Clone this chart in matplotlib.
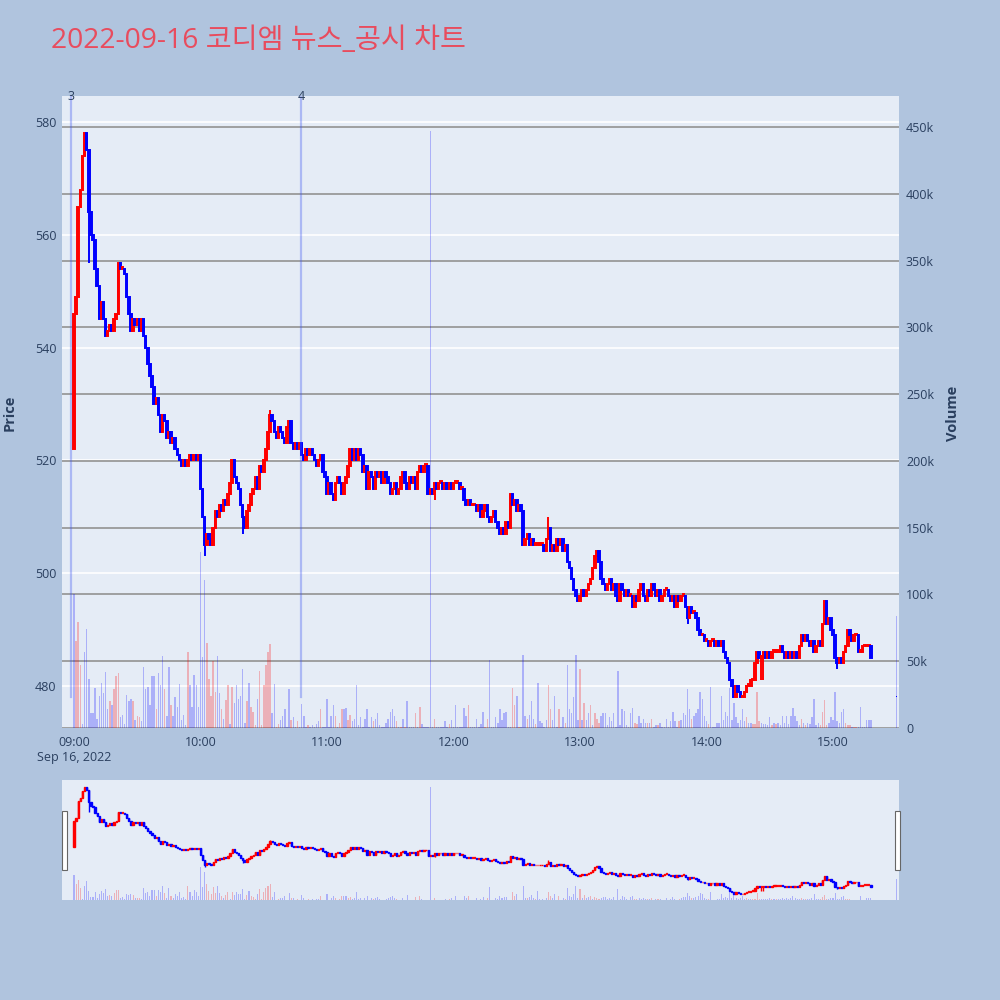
import matplotlib.pyplot as plt
from matplotlib.patches import Rectangle

plt.rcParams['font.family'] = ['Open Sans', 'Noto Sans CJK KR', 'DejaVu Sans']

# ---- data (1-minute bars from 09:00) ----
title = "2022-09-16 코디엠 뉴스_공시 차트"
first_open = 522

closes = [
    546, 549, 565, 568, 574, 578, 575, 564, 560, 559,   # 09:00
    554, 551, 545, 548, 545, 542, 543, 544, 543, 545,
    546, 555, 554, 554, 553, 549, 546, 543, 545, 544,
    545, 543, 545, 542, 540, 537, 535, 533, 530, 531,
    528, 525, 528, 527, 524, 525, 523, 524, 522, 521,
    520, 519, 520, 519, 520, 521, 520, 521, 520, 521,
    515, 510, 505, 507, 506, 505, 508, 511, 510, 512,   # 10:00
    511, 513, 512, 514, 516, 520, 517, 516, 515, 512,
    510, 508, 511, 512, 514, 515, 517, 515, 519, 518,
    520, 522, 525, 528, 527, 525, 524, 526, 525, 524,
    523, 526, 527, 523, 522, 523, 522, 523, 521, 520,
    522, 521, 522, 521, 520, 519, 520, 521, 518, 517,
    514, 516, 514, 513, 516, 517, 516, 514, 516, 517,   # 11:00
    519, 522, 520, 522, 520, 522, 521, 518, 519, 515,
    518, 517, 515, 518, 517, 518, 516, 518, 517, 516,
    514, 515, 516, 514, 515, 517, 518, 516, 515, 517,
    516, 517, 515, 518, 519, 518, 519, 519, 514, 515,
    514, 516, 515, 516, 516, 515, 516, 515, 516, 515,
    516, 516, 516, 515, 515, 513, 512, 513, 512, 512,   # 12:00
    512, 511, 512, 510, 511, 512, 510, 509, 510, 511,
    509, 508, 507, 508, 507, 509, 508, 514, 512, 513,
    511, 512, 511, 505, 506, 507, 505, 506, 505, 505,
    505, 505, 505, 504, 506, 508, 504, 505, 504, 506,
    505, 506, 504, 505, 502, 501, 499, 497, 496, 495,
    496, 497, 496, 497, 498, 499, 501, 503, 504, 502,   # 13:00
    499, 498, 497, 498, 499, 497, 498, 496, 495, 498,
    497, 496, 497, 496, 496, 494, 496, 495, 497, 498,
    496, 495, 497, 496, 498, 497, 496, 497, 495, 496,
    497, 497, 496, 495, 496, 494, 496, 495, 496, 496,
    494, 492, 494, 493, 493, 492, 490, 489, 489, 488,
    488, 487, 488, 488, 487, 488, 487, 488, 486, 485,   # 14:00
    484, 481, 480, 478, 480, 479, 478, 478, 479, 480,
    480, 481, 481, 484, 486, 485, 485, 486, 485, 486,
    485, 486, 486, 486, 486, 487, 486, 485, 486, 485,
    486, 485, 486, 485, 487, 489, 488, 489, 488, 487,
    488, 486, 487, 488, 487, 491, 495, 491, 492, 490,
    489, 485, 484, 485, 484, 486, 487, 490, 489, 488,   # 15:00
    489, 489, 486, 486, 487, 487, 487, 487, 485,
]

# volume in thousands of shares
volumes_k = [
    100, 65, 79, 47, 3, 57, 74, 37, 11, 11,
    30, 7, 24, 34, 26, 42, 14, 20, 17, 29,
    39, 41, 8, 10, 3, 25, 20, 22, 20, 6,
    9, 8, 5, 46, 29, 31, 17, 39, 39, 14,
    41, 32, 54, 29, 9, 46, 17, 9, 23, 16,
    33, 6, 10, 2, 57, 32, 16, 40, 32, 16,
    132, 53, 111, 64, 37, 24, 50, 27, 54, 26,
    14, 7, 21, 32, 3, 31, 19, 32, 22, 24,
    44, 4, 20, 34, 16, 12, 2, 22, 43, 2,
    32, 47, 57, 63, 11, 33, 1, 3, 6, 9,
    14, 1, 29, 6, 8, 1, 5, 1, 18, 9,
    1, 2, 1, 2, 1, 3, 5, 14, 1, 1,
    22, 1, 9, 17, 9, 1, 4, 14, 14, 15,
    6, 10, 5, 7, 32, 2, 8, 1, 7, 14,
    1, 8, 5, 7, 11, 2, 1, 1, 4, 7,
    12, 14, 9, 5, 1, 1, 7, 1, 20, 1,
    1, 1, 11, 1, 16, 3, 1, 1, 1, 447,
    1, 7, 1, 1, 1, 1, 5, 1, 3, 6,
    1, 17, 1, 1, 1, 15, 9, 17, 1, 1,
    1, 7, 1, 3, 12, 1, 7, 51, 1, 1,
    8, 4, 14, 6, 11, 12, 1, 1, 30, 17,
    24, 1, 1, 55, 9, 7, 10, 20, 7, 3,
    34, 5, 4, 1, 6, 32, 14, 6, 24, 1,
    14, 1, 8, 4, 47, 14, 11, 23, 55, 6,
    44, 6, 19, 6, 11, 17, 2, 11, 7, 4,
    9, 11, 11, 2, 8, 5, 11, 1, 43, 2,
    14, 13, 2, 1, 11, 15, 4, 3, 9, 4,
    7, 4, 4, 4, 7, 1, 2, 2, 4, 1,
    1, 7, 1, 5, 12, 5, 1, 5, 6, 11,
    10, 29, 14, 7, 9, 11, 14, 27, 22, 9,
    5, 3, 31, 1, 1, 4, 4, 24, 6, 12,
    9, 30, 6, 19, 8, 4, 6, 14, 5, 8,
    4, 4, 3, 3, 27, 5, 4, 3, 3, 2,
    8, 2, 4, 3, 4, 2, 9, 4, 9, 3,
    9, 15, 9, 5, 2, 7, 4, 2, 4, 3,
    8, 22, 2, 4, 2, 12, 21, 2, 4, 8,
    6, 27, 5, 4, 12, 14, 4, 2, 2, 1,
    1, 1, 1, 16, 1, 1, 6, 6, 6,
]

# r = rising bar, b = falling bar (colour of each volume bar)
volume_dirs = (
    "brrrbbbbbb" "bbbbbbbrbr" "rrbbbbbbrb" "rrbbbbbbbr" "bbbrbbrbbb"
    "bbbbrbbbbb" "bbbrrrrrbb" "rbrrbrbbbb" "bbrbrrrbrr" "rrrrbbrrbb"
    "bbbrbbrbbb" "brbbbbbrbb" "bbbbrbrrbb" "rrbbbbbbbb" "bbrbbbbbbb"
    "bbbrbrbrbb" "bbrbrbbbbb" "brbbbbbbrb" "bbbbbbbrbb" "bbbbbrrbbb"
    "bbbbbbbbrr" "brbbbrbbbr" "bbbbbrrbbb" "rbbrbbbbbb" "rbrbbrbrrr"
    "bbbbbbbbbb" "bbbbbbrrbb" "bbrbrbbrbb" "bbbbbbbrbb" "bbbrbbbbbb"
    "brbbbbbbbb" "bbbbbbbbbr" "bbrrrrbbbb" "brbrbbbbbb" "bbbbbrbrbb"
    "bbbbrrrrbb" "bbbbbbrrrb" "rrbbbbbbb"
)

wick_low = {7: 555, 62: 503, 80: 507, 123: 513, 171: 513, 291: 491,
            326: 481, 327: 481, 362: 483}
wick_high = {5: 578, 93: 529, 207: 514, 225: 510}

# closing auction at 15:30
auction_minute = 390
auction_price = 478
auction_volume_k = 84

news_minutes = [-1.5, 107.7]
news_labels = ["3", "4"]

time_labels = ["09:00", "10:00", "11:00", "12:00", "13:00", "14:00", "15:00"]
price_ticks = [480, 500, 520, 540, 560, 580]
volume_ticks = [0, 50, 100, 150, 200, 250, 300, 350, 400, 450]

# ---- derived bars ----
n = min(len(closes), len(volumes_k), len(volume_dirs))
minutes = list(range(n))
opens = [first_open] + closes[:n - 1]
highs = [wick_high.get(i, max(opens[i], closes[i])) for i in minutes]
lows = [wick_low.get(i, min(opens[i], closes[i])) for i in minutes]

UP = '#FF0000'
DOWN = '#0000FF'
BG = '#B0C4DE'
PLOT_BG = '#E5ECF6'
TXT = '#2a3f5f'

candle_cols = [UP if closes[i] >= opens[i] else DOWN for i in minutes]
vol_cols = [(1, 0, 0, 0.25) if d == 'r' else (0, 0, 1, 0.25) for d in volume_dirs[:n]]

XMIN, XMAX = -5.7, 391.3
PMIN, PMAX = 472.55, 584.6
VMIN, VMAX = 0, 473.2


def draw_chart(axv, axp, body_w, vol_w, lw, min_h):
    axv.bar(minutes, volumes_k[:n], width=vol_w, color=vol_cols, linewidth=0, zorder=2)
    axv.bar([auction_minute], [auction_volume_k], width=vol_w, color=[(0, 0, 1, 0.25)],
            linewidth=0, zorder=2)
    axp.vlines(minutes, lows, highs, colors=candle_cols, linewidth=lw, zorder=3)
    bottoms = [min(opens[i], closes[i]) for i in minutes]
    heights = [max(abs(closes[i] - opens[i]), min_h) for i in minutes]
    axp.bar(minutes, heights, bottom=bottoms, width=body_w, color=candle_cols,
            edgecolor=candle_cols, linewidth=lw, zorder=3)
    axp.bar([auction_minute], [min_h], bottom=[auction_price], width=body_w * 0.6,
            color=DOWN, linewidth=0, zorder=3)
    axv.set_xlim(XMIN, XMAX)
    axv.set_ylim(VMIN, VMAX)
    axp.set_ylim(PMIN, PMAX)
    for a in (axv, axp):
        for s in a.spines.values():
            s.set_visible(False)


fig = plt.figure(figsize=(10, 10), dpi=100, facecolor=BG)


def rect(l, t, r, b):
    return [l / 1000, 1 - b / 1000, (r - l) / 1000, (b - t) / 1000]


# main chart
ax_v = fig.add_axes(rect(62, 96, 899, 728), facecolor=PLOT_BG)
ax_p = ax_v.twinx()
draw_chart(ax_v, ax_p, 0.7, 0.7, 1.4, 0.3)

# gridlines under everything: white for price, grey for volume
ax_v.hlines(price_ticks, XMIN, XMAX, colors='white', linewidth=1.2, zorder=0.5,
            transform=ax_p.transData)
ax_v.hlines(volume_ticks, XMIN, XMAX, colors='#999999', linewidth=1.3, zorder=0.6)

ax_p.yaxis.tick_left()
ax_p.yaxis.set_label_position('left')
ax_v.yaxis.tick_right()
ax_v.yaxis.set_label_position('right')
ax_p.set_yticks(price_ticks)
ax_p.set_yticklabels([str(p) for p in price_ticks])
ax_v.set_yticks(volume_ticks)
ax_v.set_yticklabels(["0" if v == 0 else f"{v}k" for v in volume_ticks])
ax_v.set_xticks([60 * i for i in range(len(time_labels))])
ax_v.set_xticklabels(time_labels)
ax_p.tick_params(axis='y', length=0, pad=4, labelsize=9, colors=TXT)
ax_v.tick_params(axis='y', length=0, pad=5, labelsize=9, colors=TXT)
ax_v.tick_params(axis='x', length=0, pad=6, labelsize=9, colors=TXT)

ax_v.annotate("Sep 16, 2022", xy=(0, 242), xycoords=('data', 'figure pixels'),
              ha='center', va='center', fontsize=9, color=TXT)

# news markers
for m, lab in zip(news_minutes, news_labels):
    ax_p.axvline(m, ymin=0.049, ymax=1, color=(0.25, 0.35, 0.95, 0.35), linewidth=1.6, zorder=4)
    ax_p.annotate(lab, xy=(m, 1.0), xycoords=('data', 'axes fraction'),
                  ha='center', va='center', fontsize=9, color=TXT, zorder=5)

fig.text(0.010, 1 - 413 / 1000, "Price", rotation=90, ha='center', va='center',
         fontsize=10.5, fontweight='bold', color=TXT)
fig.text(0.953, 1 - 413 / 1000, "Volume", rotation=90, ha='center', va='center',
         fontsize=10.5, fontweight='bold', color=TXT)
fig.text(0.051, 0.959, title, ha='left', va='center', fontsize=20.3, color='#E84C5E')

# range slider
ax_sv = fig.add_axes(rect(62, 780, 899, 900), facecolor=PLOT_BG)
ax_sp = ax_sv.twinx()
draw_chart(ax_sv, ax_sp, 0.6, 0.5, 1.0, 0.6)
for a in (ax_sv, ax_sp):
    a.set_xticks([])
    a.set_yticks([])

for hx in (62, 895):
    fig.add_artist(Rectangle((hx / 1000, 1 - 870 / 1000), 5 / 1000, 59 / 1000,
                             transform=fig.transFigure, facecolor='white',
                             edgecolor='#666666', linewidth=0.8, zorder=10))

fig.savefig("out.png", dpi=100, facecolor=BG)
